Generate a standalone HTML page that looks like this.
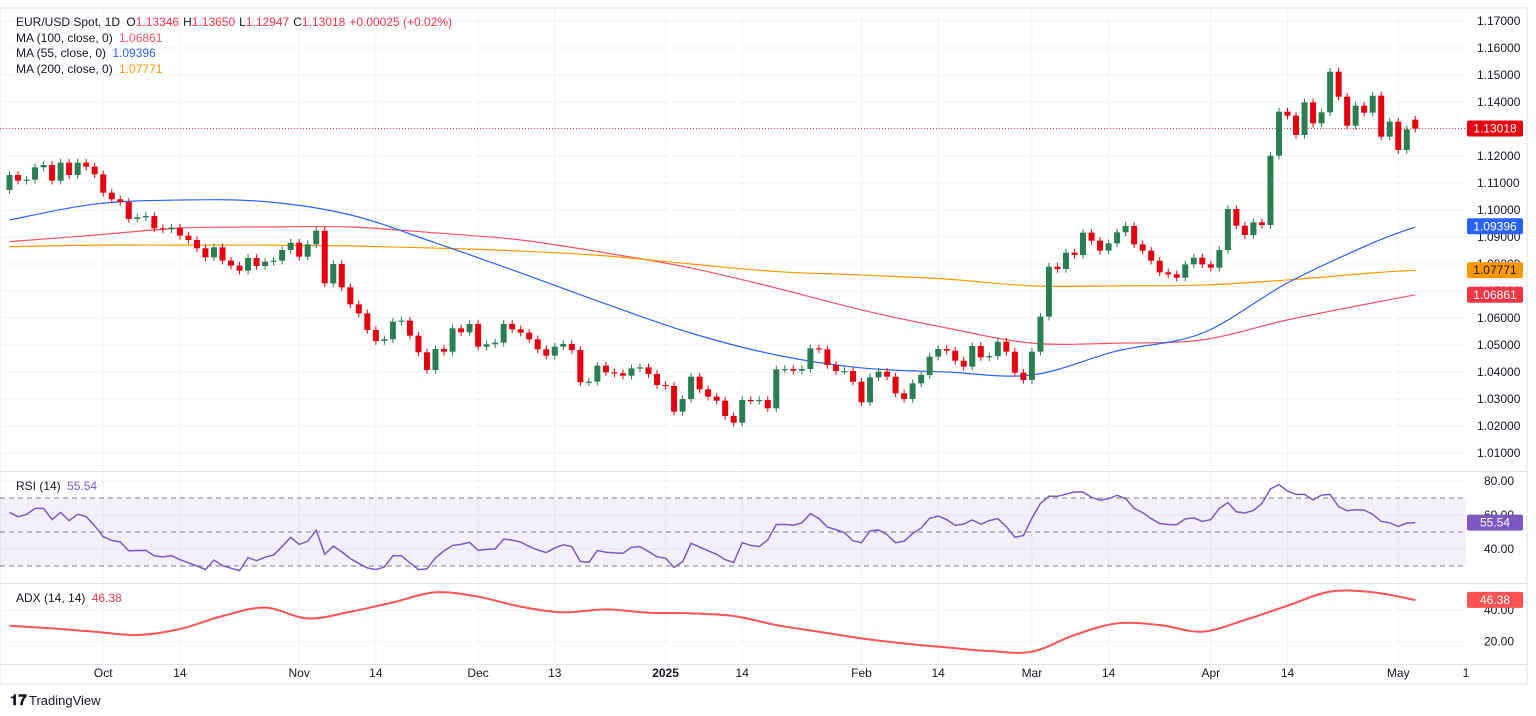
<!DOCTYPE html>
<html><head><meta charset="utf-8">
<style>
body{margin:0;background:#fff;font-family:"Liberation Sans",sans-serif;}
#wrap{position:relative;width:1536px;height:716px;overflow:hidden;background:#fff}
svg text{font-family:"Liberation Sans",sans-serif;}
</style></head>
<body>
<div id="wrap">
<svg id="chart" width="1536" height="716" viewBox="0 0 1536 716" xmlns="http://www.w3.org/2000/svg">
  <g id="grid"></g>
  <rect x="0" y="8" width="1527" height="676" fill="none" stroke="#e0e3eb" stroke-width="1"/>
  <line x1="0" y1="471.5" x2="1527" y2="471.5" stroke="#e0e3eb"/>
  <line x1="0" y1="583.5" x2="1527" y2="583.5" stroke="#e0e3eb"/>
  <line x1="0" y1="664.5" x2="1527" y2="664.5" stroke="#e0e3eb"/>
  <g id="rsiBand"></g>
  <g id="mas"></g>
  <g id="candles"></g>
  <g id="ind"></g>
  <g id="axes"></g>
  <g font-size="12">
    <text x="16" y="26" fill="#131722">EUR/USD Spot, 1D <tspan fill="#131722" dx="3">O</tspan><tspan fill="#f23645">1.13346</tspan><tspan fill="#131722" dx="4">H</tspan><tspan fill="#f23645">1.13650</tspan><tspan fill="#131722" dx="4">L</tspan><tspan fill="#f23645">1.12947</tspan><tspan fill="#131722" dx="4">C</tspan><tspan fill="#f23645">1.13018</tspan><tspan fill="#f23645" dx="4">+0.00025 (+0.02%)</tspan></text>
    <text x="16" y="42" fill="#131722">MA (100, close, 0) <tspan fill="#f7525f" dx="3">1.06861</tspan></text>
    <text x="16" y="57" fill="#131722">MA (55, close, 0) <tspan fill="#2962ff" dx="3">1.09396</tspan></text>
    <text x="16" y="73" fill="#131722">MA (200, close, 0) <tspan fill="#ff9800" dx="3">1.07771</tspan></text>
    <text x="16" y="490" fill="#131722">RSI (14) <tspan fill="#7e57c2" dx="3">55.54</tspan></text>
    <text x="16" y="602" fill="#131722">ADX (14, 14) <tspan fill="#f23645" dx="3">46.38</tspan></text>
  </g>
  <g>
    <text x="10" y="705" font-size="15" font-weight="bold" fill="#131722">𝟏𝟕</text>
    <text x="29" y="705" font-size="13" fill="#131722">TradingView</text>
  </g>
</svg>
</div>
<script>
const closes = [1.11297,1.11087,1.11124,1.11581,1.11667,1.11087,1.11753,1.11297,1.11753,1.11605,1.11321,1.10642,1.10395,1.10297,1.09667,1.09729,1.09778,1.09321,1.09284,1.09346,1.09050,1.08889,1.08581,1.08247,1.08618,1.08124,1.07939,1.07753,1.08223,1.07926,1.08087,1.08124,1.08519,1.08790,1.08272,1.08729,1.09235,1.07284,1.08001,1.07136,1.06506,1.06173,1.05556,1.05149,
1.05210,1.05865,1.05902,1.05346,1.04729,1.04074,1.04852,1.04753,1.05618,1.05469,1.05778,1.04939,1.05025,1.05087,1.05778,1.05581,1.05457,1.05210,1.04840,1.04605,1.04939,1.05037,1.04815,1.03618,1.03642,1.04235,1.03988,1.03951,1.03864,1.04136,1.04173,1.03926,1.03519,1.03482,1.02531,1.02999,1.03827,1.03358,1.03087,1.02939,1.02371,1.02124,1.02963,1.02939,1.02963,1.02655,
1.04098,1.04111,1.04049,1.04111,1.04876,1.04839,1.04259,1.04037,1.04037,1.03642,1.02876,1.03802,1.04012,1.03827,1.03209,1.02999,1.03580,1.03889,1.04568,1.04852,1.04790,1.04420,1.04197,1.04963,1.04543,1.04592,1.05123,1.04753,1.03975,1.03704,1.04753,1.06049,1.07901,1.07814,1.08420,1.08333,1.09160,1.08864,1.08494,1.08765,1.09172,1.09407,1.08728,1.08494,
1.08123,1.07691,1.07617,1.07494,1.07987,1.08234,1.07987,1.07864,1.08518,1.10037,1.09419,1.09074,1.09543,1.09444,1.12012,1.13642,1.13494,1.12778,1.13987,1.13210,1.13617,1.15123,1.14197,1.13123,1.13864,1.13605,1.14234,1.12716,1.13271,1.12222,1.12988,1.13018];
const firstOpen = 1.10741;
const lastOpen = 1.13346;
const maBars = [0,10,20,30,40,50,60,70,80,90,100,110,120,130,140,150,160,165];
const ma55 = [1.0963,1.1022,1.1037,1.1031,1.0982,1.0878,1.0767,1.0652,1.0544,1.0463,1.0415,1.0400,1.0389,1.0478,1.0544,1.0730,1.0878,1.0937];
const ma100 = [1.0883,1.0907,1.0933,1.0937,1.0937,1.0915,1.0889,1.0841,1.0785,1.0711,1.0630,1.0563,1.0507,1.0507,1.0519,1.0593,1.0656,1.0686];
const ma200 = [1.0864,1.0870,1.0870,1.0870,1.0867,1.0859,1.0848,1.0830,1.0800,1.0772,1.0759,1.0744,1.0719,1.0719,1.0722,1.0741,1.0767,1.0777];
const rsi = [61.5,59.0,60.4,63.9,63.9,57.3,61.5,56.7,60.4,59.0,53.7,47.3,45.0,44.2,38.9,39.1,39.2,36.0,35.4,36.1,33.8,31.9,30.0,27.9,33.5,30.2,28.7,27.3,35.0,33.1,35.2,36.5,41.5,46.9,42.7,44.6,51.0,36.9,41.7,38.3,34.4,31.5,28.9,27.9,29.4,36.0,36.0,31.9,27.9,28.3,34.8,38.9,42.1,42.7,43.9,39.2,39.8,40.0,45.8,45.2,44.1,41.5,39.4,37.9,40.6,42.5,41.4,32.7,32.1,39.1,38.1,37.7,37.5,41.0,41.4,38.5,35.4,34.6,29.2,32.5,43.3,41.2,38.9,36.9,33.7,32.1,43.7,
42.1,41.4,45.4,54.4,54.4,54.0,55.4,60.8,57.9,52.9,51.4,49.6,44.8,43.7,50.6,51.2,48.5,43.7,44.6,49.1,52.3,58.1,59.4,57.3,53.9,54.6,57.1,54.6,56.7,57.9,53.1,46.9,47.9,58.1,66.8,71.0,71.0,72.3,73.5,73.5,70.4,68.7,69.6,71.6,69.6,63.9,61.4,57.9,55.0,54.4,54.3,57.7,58.3,56.2,57.3,63.9,67.3,61.9,61.2,62.7,66.8,75.4,77.9,74.1,72.1,72.1,68.9,71.7,72.1,65.0,62.5,63.1,62.9,60.4,56.2,55.4,53.3,55.2,55.5];
const adxStep = 5;
const adx = [30.1,28.4,26.3,24.2,28.0,36.2,41.5,34.7,38.9,44.8,51.2,48.4,42.1,38.5,40.4,38.3,37.9,36.2,30.5,26.3,22.1,18.9,16.4,14.1,13.7,24.2,31.6,30.5,26.3,33.7,42.7,51.6,51.2,46.3];
const priceTicks = [1.17,1.16,1.15,1.14,1.13,1.12,1.11,1.10,1.09,1.08,1.07,1.06,1.05,1.04,1.03,1.02,1.01];
const rsiTicks = [80,60,40];
const adxTicks = [40,20];
const dateLabels = ["Oct","14","Nov","14","Dec","13","2025","14","Feb","14","Mar","14","Apr","14","May","1"];
const dateBars = [11,20,34,43,55,64,77,86,100,109,120,129,141,150,163,171];
const lastClose = 1.13018, lastMA55 = 1.09396, lastMA200 = 1.07771, lastMA100 = 1.06861, lastRSI = 55.54, lastADX = 46.38;

const NS = "http://www.w3.org/2000/svg";
const xB = i => 9.5 + 8.52 * i;
const yP = p => 21 + (1.17 - p) * 2700;
const yR = v => 481 + (80 - v) * 1.7;
const yA = v => 610 + (40 - v) * 1.585;
function mk(tag, attrs, parent){ const e=document.createElementNS(NS,tag); for(const k in attrs) e.setAttribute(k,attrs[k]); parent.appendChild(e); return e; }
function smooth(pts){
  let d = 'M'+pts[0][0]+','+pts[0][1];
  for(let k=0;k<pts.length-1;k++){
    const p0=pts[Math.max(0,k-1)],p1=pts[k],p2=pts[k+1],p3=pts[Math.min(pts.length-1,k+2)];
    const c1=[p1[0]+(p2[0]-p0[0])/6,p1[1]+(p2[1]-p0[1])/6], c2=[p2[0]-(p3[0]-p1[0])/6,p2[1]-(p3[1]-p1[1])/6];
    d+=' C'+c1+' '+c2+' '+p2;
  }
  return d;
}

const grid = document.getElementById('grid');
priceTicks.forEach(p=>{
  const l = mk('line',{x1:0,x2:1466,y1:yP(p),y2:yP(p),stroke:'#f0f3fa'},grid);
  
  
});
[rsiTicks.map(yR), adxTicks.map(yA)].flat().forEach(y=>{
  const l = mk('line',{x1:0,x2:1466,y1:y,y2:y,stroke:'#f0f3fa'},grid);
  
  
});
dateBars.forEach(b=>{
  const x = xB(b);
  if (x > 1466) return;
  const l = mk('line',{x1:x,x2:x,y1:8,y2:664,stroke:'#f0f3fa'},grid);
  
  
});

const band = document.getElementById('rsiBand');
const br = mk('rect',{x:0,y:yR(70),width:1466,height:yR(30)-yR(70),fill:'rgba(126,87,194,0.09)'},band);


[70,50,30].forEach(v=>{
  const l = mk('line',{x1:0,x2:1466,y1:yR(v),y2:yR(v),stroke:'#787b86','stroke-dasharray':'5 4','stroke-width':1},band);
  
  
});

const mas = document.getElementById('mas');
[[ma100,'#f7525f','ma100-line'],[ma200,'#ff9800','ma200-line'],[ma55,'#2962ff','ma55-line']].forEach(([arr,col,name])=>{
  const pts = arr.map((v,k)=>[xB(maBars[k]), yP(v)]);
  const path = mk('path',{d:smooth(pts),fill:'none',stroke:col,'stroke-width':1.2},mas);
  
  
});

const lp = mk('line',{x1:0,x2:1466,y1:yP(lastClose),y2:yP(lastClose),stroke:'#f23645','stroke-dasharray':'1 2'},mas);



const cg = document.getElementById('candles');
closes.forEach((c,i)=>{
  const o = i===0 ? firstOpen : (i===closes.length-1 ? lastOpen : closes[i-1]);
  const up = c >= o;
  const col = up ? '#2a7e51' : '#e6000e';
  const hi = Math.max(o,c)+0.0014, lo = Math.min(o,c)-0.0014;
  const x = xB(i);
  const g = mk('g',{},cg);
  
  
  mk('line',{x1:x,x2:x,y1:yP(hi),y2:yP(lo),stroke:col,'stroke-width':1},g);
  const top = yP(Math.max(o,c)), h = Math.max(1.2, yP(Math.min(o,c))-top);
  mk('rect',{x:x-3,y:top,width:6,height:h,fill:col},g);
});

const ind = document.getElementById('ind');
const rl = mk('polyline',{points:rsi.map((v,i)=>xB(i)+','+yR(v)).join(' '),fill:'none',stroke:'#7e57c2','stroke-width':1.5},ind);


const al = mk('path',{d:smooth(adx.map((v,k)=>[xB(k*adxStep), yA(v)])),fill:'none',stroke:'#ff5252','stroke-width':2},ind);



const ax = document.getElementById('axes');
function lbl(x,y,t,col,name){
  const e = mk('text',{x:x,y:y,'font-size':12,fill:col,'text-anchor':'start'},ax);
  e.textContent = t;
  
  
  return e;
}
priceTicks.forEach(p=>lbl(1477,yP(p)+4,p.toFixed(5),'#131722','price-tick'));
rsiTicks.forEach(v=>lbl(1484,yR(v)+4,v.toFixed(2),'#131722','rsi-tick'));
adxTicks.forEach(v=>lbl(1484,yA(v)+4,v.toFixed(2),'#131722','adx-tick'));
dateLabels.forEach((t,k)=>{
  const e = mk('text',{x:Math.min(xB(dateBars[k]),1466),y:677,'font-size':12,fill:'#131722','text-anchor':'middle'},ax);
  if(t==='2025') e.setAttribute('font-weight','bold');
  e.textContent = t;
  
  
});
function badge(y,t,bg,fg,name){
  const g = mk('g',{},ax);
  
  
  mk('rect',{x:1467,y:y-8,width:56,height:16,rx:2,fill:bg},g);
  const e = mk('text',{x:1495,y:y+4,'font-size':12,fill:fg,'text-anchor':'middle'},g);
  e.textContent = t;
}
badge(yP(lastMA55),lastMA55.toFixed(5),'#2962ff','#fff','ma55-badge');
badge(yP(lastMA200),lastMA200.toFixed(5),'#ff9800','#131722','ma200-badge');
badge(yP(lastMA100),lastMA100.toFixed(5),'#f23645','#fff','ma100-badge');
badge(yP(lastClose),lastClose.toFixed(5),'#e6000e','#fff','last-price-badge');
badge(yR(lastRSI),lastRSI.toFixed(2),'#7e57c2','#fff','rsi-badge');
badge(yA(lastADX),lastADX.toFixed(2),'#ff5252','#fff','adx-badge');
</script>
</body></html>
